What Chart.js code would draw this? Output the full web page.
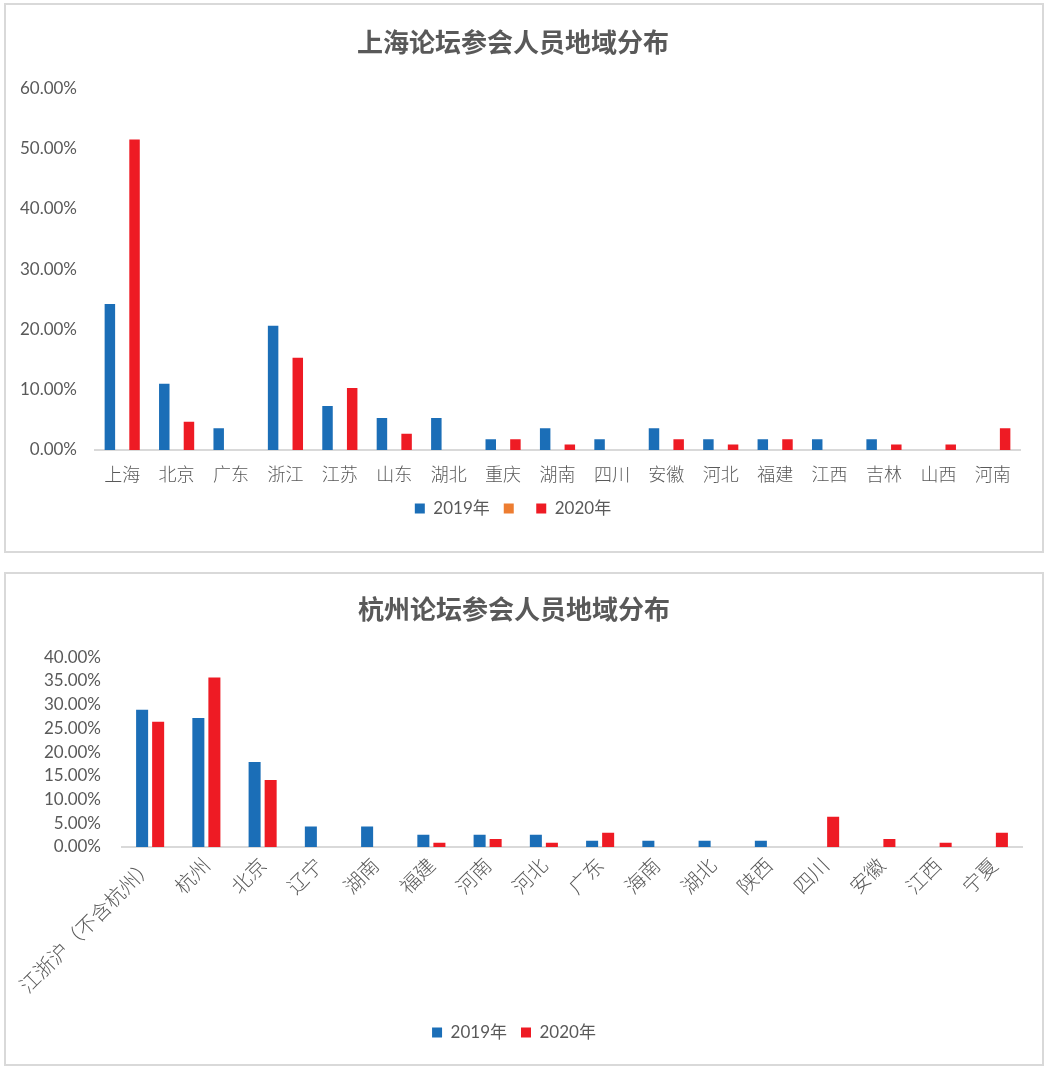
<!DOCTYPE html>
<html lang="zh">
<head>
<meta charset="utf-8">
<title>论坛参会人员地域分布</title>
<script src="https://cdn.jsdelivr.net/npm/chart.js@4/dist/chart.umd.min.js"></script>
<style>
  html, body { margin: 0; padding: 0; background: #fff; }
  .caja { position: absolute; left: 4px; width: 1036px; border: 2px solid #d9d9d9; background: #fff; }
  #cajaSh { top: 3px; height: 546px; }
  #cajaHz { top: 572px; height: 490px; }
</style>
</head>
<body>
<div class="caja" id="cajaSh"><canvas id="graficoSh"></canvas></div>
<div class="caja" id="cajaHz"><canvas id="graficoHz"></canvas></div>
<script>
// Datos: 上海论坛
const shCiudades = ['上海', '北京', '广东', '浙江', '江苏', '山东', '湖北', '重庆', '湖南', '四川', '安徽', '河北', '福建', '江西', '吉林', '山西', '河南'];
const sh2019 = [24.2, 11.0, 3.6, 20.6, 7.3, 5.3, 5.3, 1.8, 3.6, 1.8, 3.6, 1.8, 1.8, 1.8, 1.8, null, null];
const shVacio = [null, null, null, null, null, null, null, null, null, null, null, null, null, null, null, null, null];
const sh2020 = [51.5, 4.7, null, 15.3, 10.3, 2.7, null, 1.8, 0.9, null, 1.8, 0.9, 1.8, null, 0.9, 0.9, 3.6];

// Datos: 杭州论坛
const hzCiudades = ['江浙沪（不含杭州）', '杭州', '北京', '辽宁', '湖南', '福建', '河南', '河北', '广东', '海南', '湖北', '陕西', '四川', '安徽', '江西', '宁夏'];
const hz2019 = [28.9, 27.2, 17.9, 4.3, 4.3, 2.6, 2.6, 2.6, 1.3, 1.3, 1.3, 1.3, null, null, null, null];
const hz2020 = [26.4, 35.7, 14.1, null, null, 0.9, 1.7, 0.9, 3.0, null, null, null, 6.4, 1.7, 0.9, 3.0];

const etiquetasSerie = ['2019年', '', '2020年'];
const azul = '#1B6EB7';
const naranja = '#ED7D31';
const rojo = '#EE1B24';
const gris = '#595959';
const fuenteNum = "Lato, 'Noto Sans CJK SC', sans-serif";
const fuenteCjk = "'Noto Sans CJK SC', sans-serif";

function opcionesBase(titulo, yMax, yPaso, yAncho, yPad, xAlto, xFuente, xPad, pads, rotar) {
    return {
        responsive: true,
        maintainAspectRatio: false,
        animation: false,
        layout: { padding: pads },
        plugins: {
            title: {
                display: true,
                text: titulo,
                color: gris,
                font: { family: fuenteCjk, size: 26, weight: 'bold' },
                padding: { top: pads.tituloArriba, bottom: pads.tituloAbajo }
            },
            legend: {
                position: 'bottom',
                labels: {
                    color: gris,
                    boxWidth: 10,
                    boxHeight: 10,
                    padding: 14,
                    font: { family: fuenteNum, size: 17 }
                }
            },
            tooltip: { enabled: false }
        },
        scales: {
            x: {
                grid: { display: false, drawTicks: false },
                border: { display: true, color: '#d9d9d9', width: 2 },
                ticks: {
                    color: gris,
                    autoSkip: false,
                    maxRotation: rotar,
                    minRotation: rotar,
                    padding: xPad,
                    font: { family: fuenteCjk, size: xFuente, weight: '300' }
                },
                afterFit: function(escala) { escala.height = xAlto; }
            },
            y: {
                min: 0,
                max: yMax,
                grid: { display: false, drawTicks: false },
                border: { display: false },
                ticks: {
                    stepSize: yPaso,
                    color: gris,
                    padding: yPad,
                    font: { family: fuenteNum, size: 17 },
                    callback: function(v) { return v.toFixed(2) + '%'; }
                },
                afterFit: function(escala) { escala.width = yAncho; }
            }
        }
    };
}

function inicializarGraficos() {
    // Gráfico superior
    const ctxSh = document.getElementById('graficoSh').getContext('2d');
    new Chart(ctxSh, {
        type: 'bar',
        data: {
            labels: shCiudades,
            datasets: [
                { label: etiquetasSerie[0], data: sh2019, backgroundColor: azul },
                { label: etiquetasSerie[1], data: shVacio, backgroundColor: naranja },
                { label: etiquetasSerie[2], data: sh2020, backgroundColor: rojo }
            ].map(d => Object.assign(d, { barPercentage: 0.85, categoryPercentage: 0.68 }))
        },
        options: opcionesBase('上海论坛参会人员地域分布', 60, 10, 89, 18, 36, 18, 13,
            { top: 0, left: 0, right: 22, bottom: 24, tituloArriba: 22, tituloAbajo: 30 }, 0)
    });

    // Gráfico inferior
    const ctxHz = document.getElementById('graficoHz').getContext('2d');
    new Chart(ctxHz, {
        type: 'bar',
        data: {
            labels: hzCiudades,
            datasets: [
                { label: '2019年', data: hz2019, backgroundColor: azul },
                { label: '2020年', data: hz2020, backgroundColor: rojo }
            ].map(d => Object.assign(d, { barPercentage: 0.75, categoryPercentage: 0.57 }))
        },
        options: opcionesBase('杭州论坛参会人员地域分布', 40, 5, 116, 21, 163, 20, 6,
            { top: 0, left: 0, right: 20, bottom: 13, tituloArriba: 20, tituloAbajo: 32 }, 45)
    });
}

document.addEventListener('DOMContentLoaded', inicializarGraficos);
</script>
</body>
</html>
